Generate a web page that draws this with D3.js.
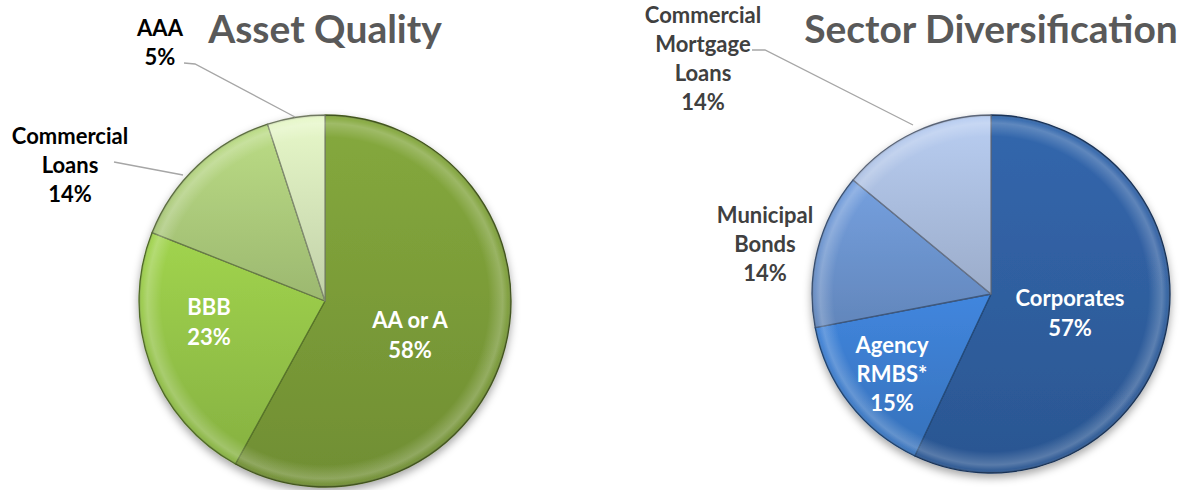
<!DOCTYPE html>
<html><head><meta charset="utf-8">
<script src="https://cdn.jsdelivr.net/npm/d3@7"></script>
<style>
html,body{margin:0;padding:0;background:#fff;}
svg{display:block;font-family:Lato,"Open Sans",sans-serif;}
</style></head>
<body><svg id="c" width="1183" height="490"></svg>
<script>
// ---- data ----
const qualityLabels = [["AA or A"], ["BBB"], ["Commercial", "Loans"], ["AAA"]];
const qualityValues = [58, 23, 14, 5];
const qualityColors = ["#7a9b38", "#93c247", "#abc97a", "#d3e3b8"];
const sectorLabels = [["Corporates"], ["Agency", "RMBS*"], ["Municipal", "Bonds"], ["Commercial", "Mortgage", "Loans"]];
const sectorValues = [57, 15, 14, 14];
const sectorColors = ["#2f5e9e", "#3b7bcb", "#6b92cc", "#a9bcdd"];

const svg = d3.select("#c");
const defs = svg.append("defs");
const f = defs.append("filter").attr("id","shadow").attr("x","-20%").attr("y","-20%").attr("width","140%").attr("height","150%");
f.append("feDropShadow").attr("dx",0).attr("dy",4).attr("stdDeviation",4).attr("flood-color","#000").attr("flood-opacity",0.35);

function drawPie(opts){
  const {cx, cy, r, values, labels, colors, id, inside, outside, title} = opts;
  const g = svg.append("g").attr("transform",`translate(${cx},${cy})`);
  const pie = d3.pie().sort(null).value(d=>d)(values);
  const arc = d3.arc().innerRadius(0).outerRadius(r);
  colors.forEach((c,i)=>{
    const lg = defs.append("linearGradient").attr("id",`${id}g${i}`).attr("x1",0).attr("y1",0).attr("x2",0).attr("y2",1);
    lg.append("stop").attr("offset","0%").attr("stop-color",d3.color(c).brighter(0.25));
    lg.append("stop").attr("offset","100%").attr("stop-color",d3.color(c).darker(0.25));
  });
  const rad = defs.append("radialGradient").attr("id",`${id}rim`).attr("gradientUnits","userSpaceOnUse")
    .attr("cx",0).attr("cy",0).attr("r",r);
  rad.append("stop").attr("offset","0.88").attr("stop-color","#fff").attr("stop-opacity",0);
  rad.append("stop").attr("offset","0.955").attr("stop-color","#fff").attr("stop-opacity",0.22);
  rad.append("stop").attr("offset","0.985").attr("stop-color","#fff").attr("stop-opacity",0.05);
  rad.append("stop").attr("offset","1").attr("stop-color","#000").attr("stop-opacity",0.25);

  const gs = g.append("g").attr("filter","url(#shadow)");
  gs.selectAll("path.s").data(pie).join("path").attr("class","s")
    .attr("d",arc).attr("fill",(d,i)=>`url(#${id}g${i})`)
    .attr("stroke",(d,i)=>d3.color(colors[i]).darker(1.4)).attr("stroke-width",1.3).attr("stroke-linejoin","round");
  g.selectAll("path.h").data(pie).join("path").attr("class","h")
    .attr("d",arc).attr("fill",`url(#${id}rim)`).attr("pointer-events","none");

  pie.forEach((d,i)=>{
    const L = (inside[i] || outside[i]);
    const lines = labels[i].concat([values[i]+"%"]);
    const t = svg.append("text").attr("text-anchor","middle")
      .attr("font-weight",700).attr("font-size",L.fs||22)
      .attr("fill",L.color);
    lines.forEach((s,k)=>{
      t.append("tspan").attr("x",L.x).attr("y",L.y + k*L.lh).text(s);
    });
    if(L.leader){
      svg.append("polyline").attr("points",L.leader.map(p=>p.join(",")).join(" "))
        .attr("fill","none").attr("stroke","#a6a6a6").attr("stroke-width",1.3);
    }
  });
  svg.append("text").attr("x",title.x).attr("y",title.y).attr("text-anchor","middle")
    .attr("font-weight",700).attr("font-size",title.fs).attr("fill","#595959").text(title.text);
}

drawPie({
  cx:325, cy:301, r:186, values:qualityValues, labels:qualityLabels, colors:qualityColors, id:"q",
  inside:[{x:410,y:328,lh:30,color:"#fff"},{x:209,y:315,lh:30,color:"#fff"},null,null],
  outside:[null,null,
    {x:70,y:144,lh:29,color:"#000",leader:[[114,162],[183,175]]},
    {x:160,y:36,lh:29,color:"#000",leader:[[184,63],[195,64],[295,117]]}],
  title:{x:325,y:43,fs:39,text:"Asset Quality"}
});
drawPie({
  cx:991, cy:294, r:179, values:sectorValues, labels:sectorLabels, colors:sectorColors, id:"s",
  inside:[{x:1070,y:306,lh:30,color:"#fff"},{x:892,y:353,lh:29,color:"#fff"},null,null],
  outside:[null,null,
    {x:765,y:223,lh:29,color:"#404040"},
    {x:703,y:23,lh:29,color:"#404040",leader:[[752,50],[765,50],[913,125]]}],
  title:{x:991,y:43,fs:39,text:"Sector Diversification"}
});
</script></body></html>
